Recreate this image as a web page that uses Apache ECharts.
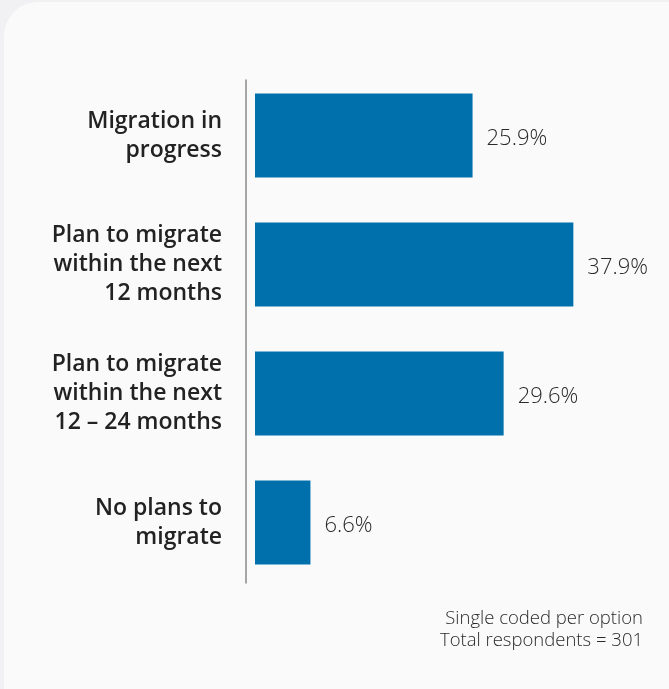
<!DOCTYPE html>
<html>
<head>
<meta charset="utf-8">
<script src="https://cdn.jsdelivr.net/npm/echarts@6/dist/echarts.min.js"></script>
<style>
  html, body { margin: 0; padding: 0; background: #f1f1f3; overflow: hidden; }
  #card { position: absolute; left: 4px; top: 2px; width: 720px; height: 740px;
          background: #fafafa; border-radius: 34px; }
  #chart { position: absolute; left: 0; top: 0; width: 669px; height: 689px; }
</style>
</head>
<body>
<div id="card"></div>
<div id="chart"></div>
<script>
// Migration status, share of respondents (%)
const categories = [
  'Migration in\nprogress',
  'Plan to migrate\nwithin the next\n12 months',
  'Plan to migrate\nwithin the next\n12 – 24 months',
  'No plans to\nmigrate'
];
const shares = [25.9, 37.9, 29.6, 6.6];
const footnote = ['Single coded per option', 'Total respondents = 301'];

const chart = echarts.init(document.getElementById('chart'), null, { renderer: 'canvas' });

chart.setOption({
  backgroundColor: 'transparent',
  animation: false,
  grid: [
    { left: 255, right: 78, top: 71, height: 516 },
    // thin grid that only carries the vertical baseline rule
    { left: 246, width: 1, top: 80, height: 503 }
  ],
  xAxis: [
    { type: 'value', min: 0, max: 40, show: false },
    { gridIndex: 1, type: 'value', min: 0, max: 1, show: false }
  ],
  yAxis: [
    {
      type: 'category',
      data: categories,
      inverse: true,
      axisLine: { show: false },
      axisTick: { show: false },
      axisLabel: {
        margin: 33,
        color: '#222',
        fontFamily: 'Open Sans',
        fontWeight: 600,
        fontSize: 23,
        lineHeight: 29,
        padding: [14, 0, 0, 0],
        align: 'right'
      }
    },
    {
      gridIndex: 1,
      type: 'value', min: 0, max: 1,
      axisLine: { show: true, lineStyle: { color: '#8a8a8a', width: 1.5 } },
      axisTick: { show: false },
      axisLabel: { show: false },
      splitLine: { show: false }
    }
  ],
  series: [{
    type: 'bar',
    data: shares,
    barWidth: 84,
    itemStyle: { color: '#0070ad' },
    label: {
      show: true,
      position: 'right',
      distance: 14,
      offset: [0, 3],
      color: '#2a2a2a',
      fontFamily: 'Open Sans',
      fontWeight: 300,
      fontSize: 22,
      formatter: p => p.value.toFixed(1) + '%'
    }
  }],
  graphic: [{
    type: 'text',
    right: 26,
    top: 608,
    style: {
      text: footnote.join('\n'),
      textAlign: 'right',
      fill: '#2a2a2a',
      fontFamily: 'Open Sans',
      fontWeight: 300,
      fontSize: 18.5,
      lineHeight: 22
    }
  }]
});
</script>
</body>
</html>
